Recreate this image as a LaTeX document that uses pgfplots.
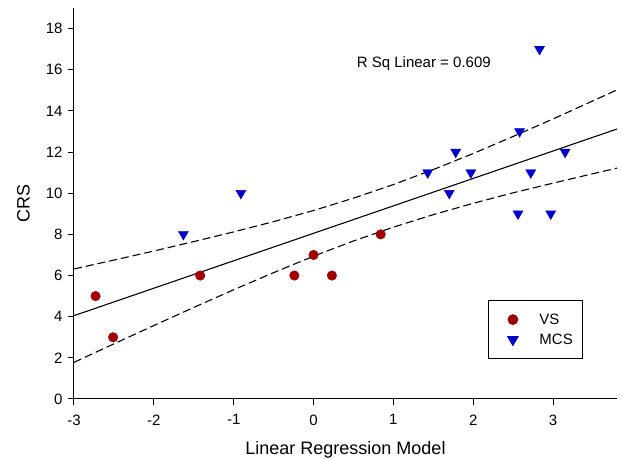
\documentclass[border=0pt]{standalone}
\usepackage{pgfplots}
\pgfplotsset{compat=1.18}
\usepackage{fontspec}
\setmainfont{Liberation Sans}
\definecolor{vsred}{RGB}{160,0,0}
\definecolor{mcsblue}{RGB}{0,0,200}

\begin{document}
\begin{tikzpicture}
\begin{axis}[
  width=543pt, height=391pt, scale only axis,
  xmin=-3, xmax=3.8, ymin=0, ymax=19,
  axis lines=left, axis line style={-, line width=1pt},
  xtick={-3,-2,-1,0,1,2,3}, ytick={0,2,...,18},
  tick align=outside, major tick length=6pt,
  tick style={black, line width=1pt},
  /pgf/number format/assume math mode=true,
  ticklabel style={font=\fontsize{15}{17}\selectfont},
  xticklabel style={yshift=-6pt},
  yticklabel style={xshift=-2pt},
  xlabel={Linear Regression Model}, ylabel={CRS},
  label style={font=\fontsize{18}{20}\selectfont},
  xlabel style={yshift=-9pt},
  ylabel style={yshift=9pt},
  legend style={at={(0.938,0.253)}, anchor=north east, draw=black, line width=1.1pt,
    font=\fontsize{15}{17}\selectfont, inner xsep=8pt, inner ysep=11pt,
    row sep=4pt, cells={anchor=west}},
  legend cell align=left,
  legend image code/.code={%
    \draw[#1, only marks] plot coordinates {(16pt,0pt)};
    \path (0pt,0pt) (40pt,0pt);},
  clip=false,
]
% regression line and 95% band
\addplot[black, line width=1.1pt, forget plot] coordinates {(-3,4.05)(3.8,13.12)};
\addplot[black, line width=1.1pt, dash pattern=on 8pt off 4pt, forget plot] coordinates {
  (-3,6.32)(-2.5,6.75)(-2,7.19)(-1.5,7.65)(-1,8.12)(-0.5,8.62)(0,9.16)(0.5,9.76)
  (1,10.42)(1.5,11.15)(2,11.93)(2.5,12.76)(3,13.61)(3.5,14.49)(3.8,15.02)};
\addplot[black, line width=1.1pt, dash pattern=on 8pt off 4pt, forget plot] coordinates {
  (-3,1.78)(-2.5,2.68)(-2,3.57)(-1.5,4.45)(-1,5.31)(-0.5,6.14)(0,6.94)(0.5,7.68)
  (1,8.35)(1.5,8.96)(2,9.51)(2.5,10.02)(3,10.49)(3.5,10.95)(3.8,11.22)};
% VS
\addplot[only marks, mark=*, mark size=4.8pt, color=vsred, fill=vsred] coordinates {
  (-2.73,5)(-2.51,3)(-1.42,6)(-0.24,6)(0,7)(0.23,6)(0.84,8)};
% MCS
\addplot[only marks, mark=triangle*, mark size=5.8pt, color=mcsblue, fill=mcsblue,
  mark options={rotate=180}] coordinates {
  (-1.63,8)(-0.91,10)(1.43,11)(1.70,10)(1.78,12)(1.97,11)(2.56,9)(2.58,13)
  (2.72,11)(2.83,17)(2.97,9)(3.15,12)};
\legend{VS,MCS}
\node[anchor=west, font=\fontsize{15}{17}\selectfont, inner sep=0pt] at (axis cs:0.54,16.3) {R Sq Linear = 0.609};
\coordinate (bl) at (rel axis cs:0,0);
\coordinate (tr) at (rel axis cs:1,1);
\end{axis}
\pgfresetboundingbox
\path ([shift={(-74pt,-60pt)}]bl) rectangle ([shift={(5pt,8pt)}]tr);
\end{tikzpicture}
\end{document}
